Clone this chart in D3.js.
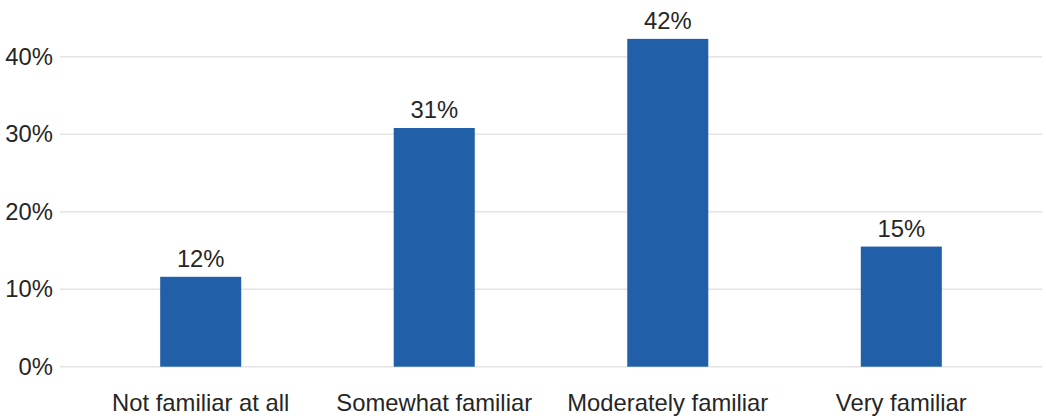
<!DOCTYPE html>
<html>
<head>
<meta charset="utf-8">
<script src="https://cdn.jsdelivr.net/npm/d3@7"></script>
<style>
  html, body { margin: 0; padding: 0; background: #fff; }
  svg { display: block; }
  text { font-family: "Liberation Sans", Arial, sans-serif; fill: #262626; }
</style>
</head>
<body>
<script>
const categories = ["Not familiar at all", "Somewhat familiar", "Moderately familiar", "Very familiar"];
const values = [11.6, 30.8, 42.3, 15.5];
const valueLabels = ["12%", "31%", "42%", "15%"];
const yTicks = [0, 10, 20, 30, 40];

const W = 1046, H = 418;
const svg = d3.select("body").append("svg").attr("width", W).attr("height", H);

const x = d3.scaleBand().domain(categories).range([60, 1042])
  .paddingInner(0.653).paddingOuter(0.429);
const y = d3.scaleLinear().domain([0, 40]).range([366.7, 56.7]);

const fs = "23.8px";

// gridlines
svg.append("g").selectAll("line").data(yTicks).join("line")
  .attr("x1", 60).attr("x2", 1042)
  .attr("y1", d => y(d)).attr("y2", d => y(d))
  .attr("stroke", "#e4e4e4").attr("stroke-width", 1.5);

// y axis labels
const yAxis = d3.axisLeft(y).tickValues(yTicks).tickFormat(d => d + "%").tickSize(0).tickPadding(0);
const ya = svg.append("g").attr("transform", "translate(53,0)").call(yAxis);
ya.select(".domain").remove();
ya.selectAll("text").style("font-size", fs).attr("fill", "#262626").style("font-family", "Liberation Sans, Arial, sans-serif");

// bars
svg.append("g").selectAll("rect").data(values).join("rect")
  .attr("x", (d, i) => x(categories[i]))
  .attr("width", x.bandwidth())
  .attr("y", d => y(d))
  .attr("height", d => y(0) - y(d))
  .attr("fill", "#215fa8");

// value labels
svg.append("g").selectAll("text").data(values).join("text")
  .attr("x", (d, i) => x(categories[i]) + x.bandwidth() / 2)
  .attr("y", d => y(d) - 10)
  .attr("text-anchor", "middle")
  .style("font-size", fs)
  .text((d, i) => valueLabels[i]);

// x axis labels
const xAxis = d3.axisBottom(x).tickSize(0).tickPadding(0);
const xa = svg.append("g").attr("transform", "translate(0,411)").call(xAxis);
xa.select(".domain").remove();
xa.selectAll("text").style("font-size", fs).attr("fill", "#262626")
  .style("font-family", "Liberation Sans, Arial, sans-serif").attr("dy", "0");
</script>
</body>
</html>
